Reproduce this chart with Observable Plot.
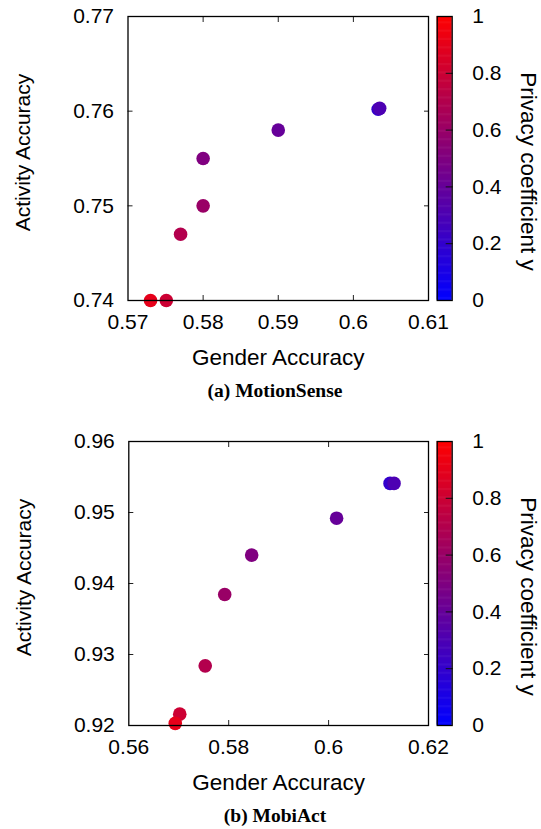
<!DOCTYPE html>
<html><head><meta charset="utf-8">
<script src="https://cdn.jsdelivr.net/npm/d3@7"></script>
<script src="https://cdn.jsdelivr.net/npm/@observablehq/plot@0.6"></script>
<style>
html,body{margin:0;padding:0;background:#fff;}
#root{position:relative;width:541px;height:829px;overflow:hidden;background:#fff;}
.abs{position:absolute;}
.caption{position:absolute;left:0;width:550px;text-align:center;font-family:"Liberation Serif",serif;font-weight:bold;font-size:19.5px;color:#000;line-height:20px;}
</style></head><body><div id="root"></div>
<script>
// Privacy coefficient of each point (drawn in this order)
const privacy = [0.2, 0.3, 0.4, 0.5, 0.6, 0.7, 0.8, 0.9];

// (a) MotionSense
const motionGender   = [0.6033, 0.6035, 0.5900, 0.5800, 0.5800, 0.5770, 0.5751, 0.5730];
const motionActivity = [0.7602, 0.7603, 0.7580, 0.7550, 0.7500, 0.7470, 0.7400, 0.7400];
const motionXTicks = [0.57, 0.58, 0.59, 0.60, 0.61];
const motionXLabels = ["0.57", "0.58", "0.59", "0.6", "0.61"];
const motionYTicks = [0.74, 0.75, 0.76, 0.77];
const motionYLabels = ["0.74", "0.75", "0.76", "0.77"];

// (b) MobiAct
const mobiGender   = [0.6123, 0.6131, 0.6016, 0.5846, 0.5792, 0.5753, 0.5702, 0.5693];
const mobiActivity = [0.9541, 0.9541, 0.9492, 0.9440, 0.93845, 0.9284, 0.9216, 0.9203];
const mobiXTicks = [0.56, 0.58, 0.60, 0.62];
const mobiXLabels = ["0.56", "0.58", "0.6", "0.62"];
const mobiYTicks = [0.92, 0.93, 0.94, 0.95, 0.96];
const mobiYLabels = ["0.92", "0.93", "0.94", "0.95", "0.96"];

// Colour bar
const cbTicks = [0, 0.2, 0.4, 0.6, 0.8, 1];
const cbLabels = ["0", "0.2", "0.4", "0.6", "0.8", "1"];

const xTitle = "Gender Accuracy";
const yTitle = "Activity Accuracy";
const cbTitle = "Privacy coefficient y";
const captions = ["(a) MotionSense", "(b) MobiAct"];

const FONT = {fontFamily: "'Liberation Sans', Arial, sans-serif", fontSize: "21px", color: "#000", background: "transparent"};
const colorScale = {type: "linear", domain: [0, 1], range: ["blue", "red"], interpolate: "rgb"};
const root = document.getElementById("root");

function fmt(ticks, labels) {
  return d => { const i = ticks.findIndex(t => Math.abs(t - d) < 1e-9); return i >= 0 ? labels[i] : ""; };
}

function panel(top, mLeft, gender, activity, xDomain, xTicks, xLabels, yDomain, yTicks, yLabels, caption) {
  const idx = d3.range(gender.length);
  const inner = a => a.slice(1, -1);
  const main = Plot.plot({
    width: 541, height: 380,
    marginLeft: mLeft, marginRight: 113, marginTop: 16, marginBottom: 80,
    x: {domain: xDomain}, y: {domain: yDomain},
    color: colorScale,
    style: FONT,
    marks: [
      Plot.axisX(xTicks, {anchor: "bottom", tickSize: 0, tickPadding: 14, tickFormat: fmt(xTicks, xLabels), label: null}),
      Plot.axisY(yTicks, {anchor: "left", tickSize: 0, tickPadding: 14, tickFormat: fmt(yTicks, yLabels), label: null}),
      Plot.axisX(inner(xTicks), {anchor: "bottom", tickSize: 5, insetBottom: 5, tickFormat: () => "", label: null, stroke: "#222"}),
      Plot.axisX(inner(xTicks), {anchor: "top", tickSize: 5, insetTop: 5, tickFormat: () => "", label: null, stroke: "#222"}),
      Plot.axisY(inner(yTicks), {anchor: "left", tickSize: 5, insetLeft: 5, tickFormat: () => "", label: null, stroke: "#222"}),
      Plot.axisY(inner(yTicks), {anchor: "right", tickSize: 5, insetRight: 5, tickFormat: () => "", label: null, stroke: "#222"}),
      Plot.dot(idx, {x: i => gender[i], y: i => activity[i], fill: i => privacy[i], r: 6.8}),
      Plot.frame({stroke: "#000", strokeWidth: 1.3}),
      Plot.text([xTitle], {frameAnchor: "bottom", textAnchor: "middle", lineAnchor: "middle", dy: 57, fontSize: 22.5, text: d => d}),
      Plot.text([yTitle], {frameAnchor: "left", textAnchor: "middle", lineAnchor: "middle", rotate: -90, dx: -105, dy: -6, text: d => d})
    ]
  });
  main.classList.add("abs");
  main.style.left = "0px"; main.style.top = top + "px";
  root.appendChild(main);

  const steps = d3.range(0, 1, 0.004);
  const cb = Plot.plot({
    width: 121, height: 380,
    marginLeft: 16.7, marginRight: 89.3, marginTop: 16, marginBottom: 80,
    y: {domain: [0, 1]},
    color: colorScale,
    style: FONT,
    marks: [
      Plot.rect(steps, {y1: d => d, y2: d => Math.min(1, d + 0.006), fill: d => d + 0.002}),
      Plot.axisY(cbTicks, {anchor: "right", tickSize: 0, tickPadding: 20, tickFormat: fmt(cbTicks, cbLabels), label: null}),
      Plot.axisY(inner(cbTicks), {anchor: "right", tickSize: 7, insetRight: 7, tickFormat: () => "", label: null, stroke: "#111"}),
      Plot.frame({stroke: "#000", strokeWidth: 1.3}),
      Plot.text([cbTitle], {frameAnchor: "right", textAnchor: "middle", lineAnchor: "middle", rotate: 90, dx: 76, dy: 13, fontSize: 22.5, text: d => d})
    ]
  });
  cb.classList.add("abs");
  cb.style.left = "420px"; cb.style.top = top + "px";
  root.appendChild(cb);

  const cap = document.createElement("div");
  cap.className = "caption";
  cap.style.top = (top + 381) + "px";
  cap.textContent = caption;
  root.appendChild(cap);
}

panel(0, 127.5, motionGender, motionActivity, [0.57, 0.61], motionXTicks, motionXLabels, [0.74, 0.77], motionYTicks, motionYLabels, captions[0]);
panel(424.7, 128.3, mobiGender, mobiActivity, [0.56, 0.62], mobiXTicks, mobiXLabels, [0.92, 0.96], mobiYTicks, mobiYLabels, captions[1]);
</script>
</body></html>
